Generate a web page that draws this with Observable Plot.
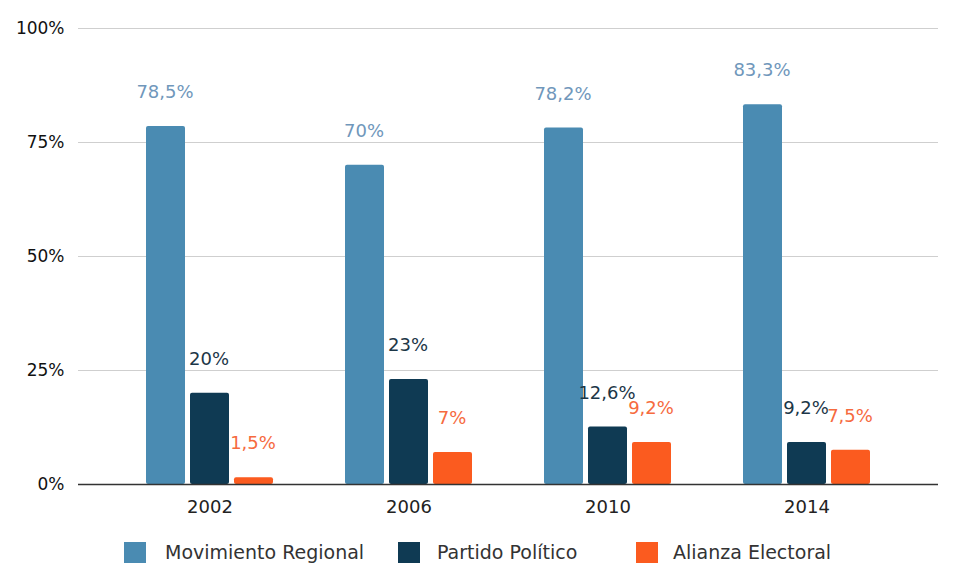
<!DOCTYPE html>
<html>
<head>
<meta charset="utf-8">
<script src="https://cdn.jsdelivr.net/npm/d3@7"></script>
<script src="https://cdn.jsdelivr.net/npm/@observablehq/plot@0.6"></script>
<style>
  body { margin: 0; background: #fff; font-family: "DejaVu Sans", sans-serif; }
  #wrap { position: relative; width: 955px; height: 565px; overflow: hidden; }
  .legend { position: absolute; top: 0; left: 0; width: 955px; height: 565px; pointer-events: none; }
  .sw { position: absolute; top: 542px; width: 22px; height: 21px; }
  .lt { position: absolute; top: 540px; font-size: 19px; line-height: 24px; color: #333; white-space: nowrap; }
</style>
</head>
<body>
<div id="wrap"><div id="chart"></div><div class="legend" id="legend"></div></div>
<script>
const years = ["2002", "2006", "2010", "2014"];
const seriesNames = ["Movimiento Regional", "Partido Político", "Alianza Electoral"];
const movimientoRegional = [78.5, 70, 78.2, 83.3];
const partidoPolitico = [20, 23, 12.6, 9.2];
const alianzaElectoral = [1.5, 7, 9.2, 7.5];
const yTicks = [0, 25, 50, 75, 100];

const barColors = ["#4a8bb2", "#0f3a53", "#fb5b1f"];
const labelColors = ["#7097bb", "#1c3647", "#f66a3e"];
const offsets = [-44, 0, 44];
const swatchLeft = [124, 398, 636];
const textLeft = [165, 437, 673];

const seriesValues = [movimientoRegional, partidoPolitico, alianzaElectoral];
const fmt = v => String(v).replace(".", ",") + "%";

const marks = [
  Plot.ruleY(yTicks.filter(d => d > 0), {stroke: "#cfcfcf", strokeWidth: 1})
];
seriesValues.forEach((vals, i) => {
  const data = years.map((y, j) => ({year: y, value: vals[j]}));
  marks.push(Plot.barY(data, {x: "year", y: "value", fill: barColors[i], dx: offsets[i], rx: 2}));
  marks.push(Plot.text(data, {
    x: "year", y: "value", text: d => fmt(d.value), dx: offsets[i] - 1, dy: -34,
    fill: labelColors[i], fontSize: 18
  }));
});
marks.push(Plot.ruleY([0], {stroke: "#333", strokeWidth: 1.5}));

const chart = Plot.plot({
  width: 955,
  height: 526,
  marginLeft: 78,
  marginRight: 17,
  marginTop: 28,
  marginBottom: 42,
  style: {fontFamily: "DejaVu Sans, sans-serif", background: "#fff"},
  x: {domain: years, paddingInner: 0.8043, paddingOuter: 0.56, label: null},
  y: {domain: [0, 100], label: null},
  marks: [
    ...marks,
    Plot.axisX({tickSize: 0, tickPadding: 16, fontSize: 18, fill: "#222", label: null}),
    Plot.axisY({ticks: yTicks, tickFormat: d => d + "%", tickSize: 0, tickPadding: 14, fontSize: 17, fill: "#111", label: null})
  ]
});
document.getElementById("chart").appendChild(chart);

const legend = document.getElementById("legend");
seriesNames.forEach((name, i) => {
  const sw = document.createElement("div");
  sw.className = "sw";
  sw.style.left = swatchLeft[i] + "px";
  sw.style.background = barColors[i];
  const t = document.createElement("div");
  t.className = "lt";
  t.style.left = textLeft[i] + "px";
  t.textContent = name;
  legend.appendChild(sw);
  legend.appendChild(t);
});
</script>
</body>
</html>
